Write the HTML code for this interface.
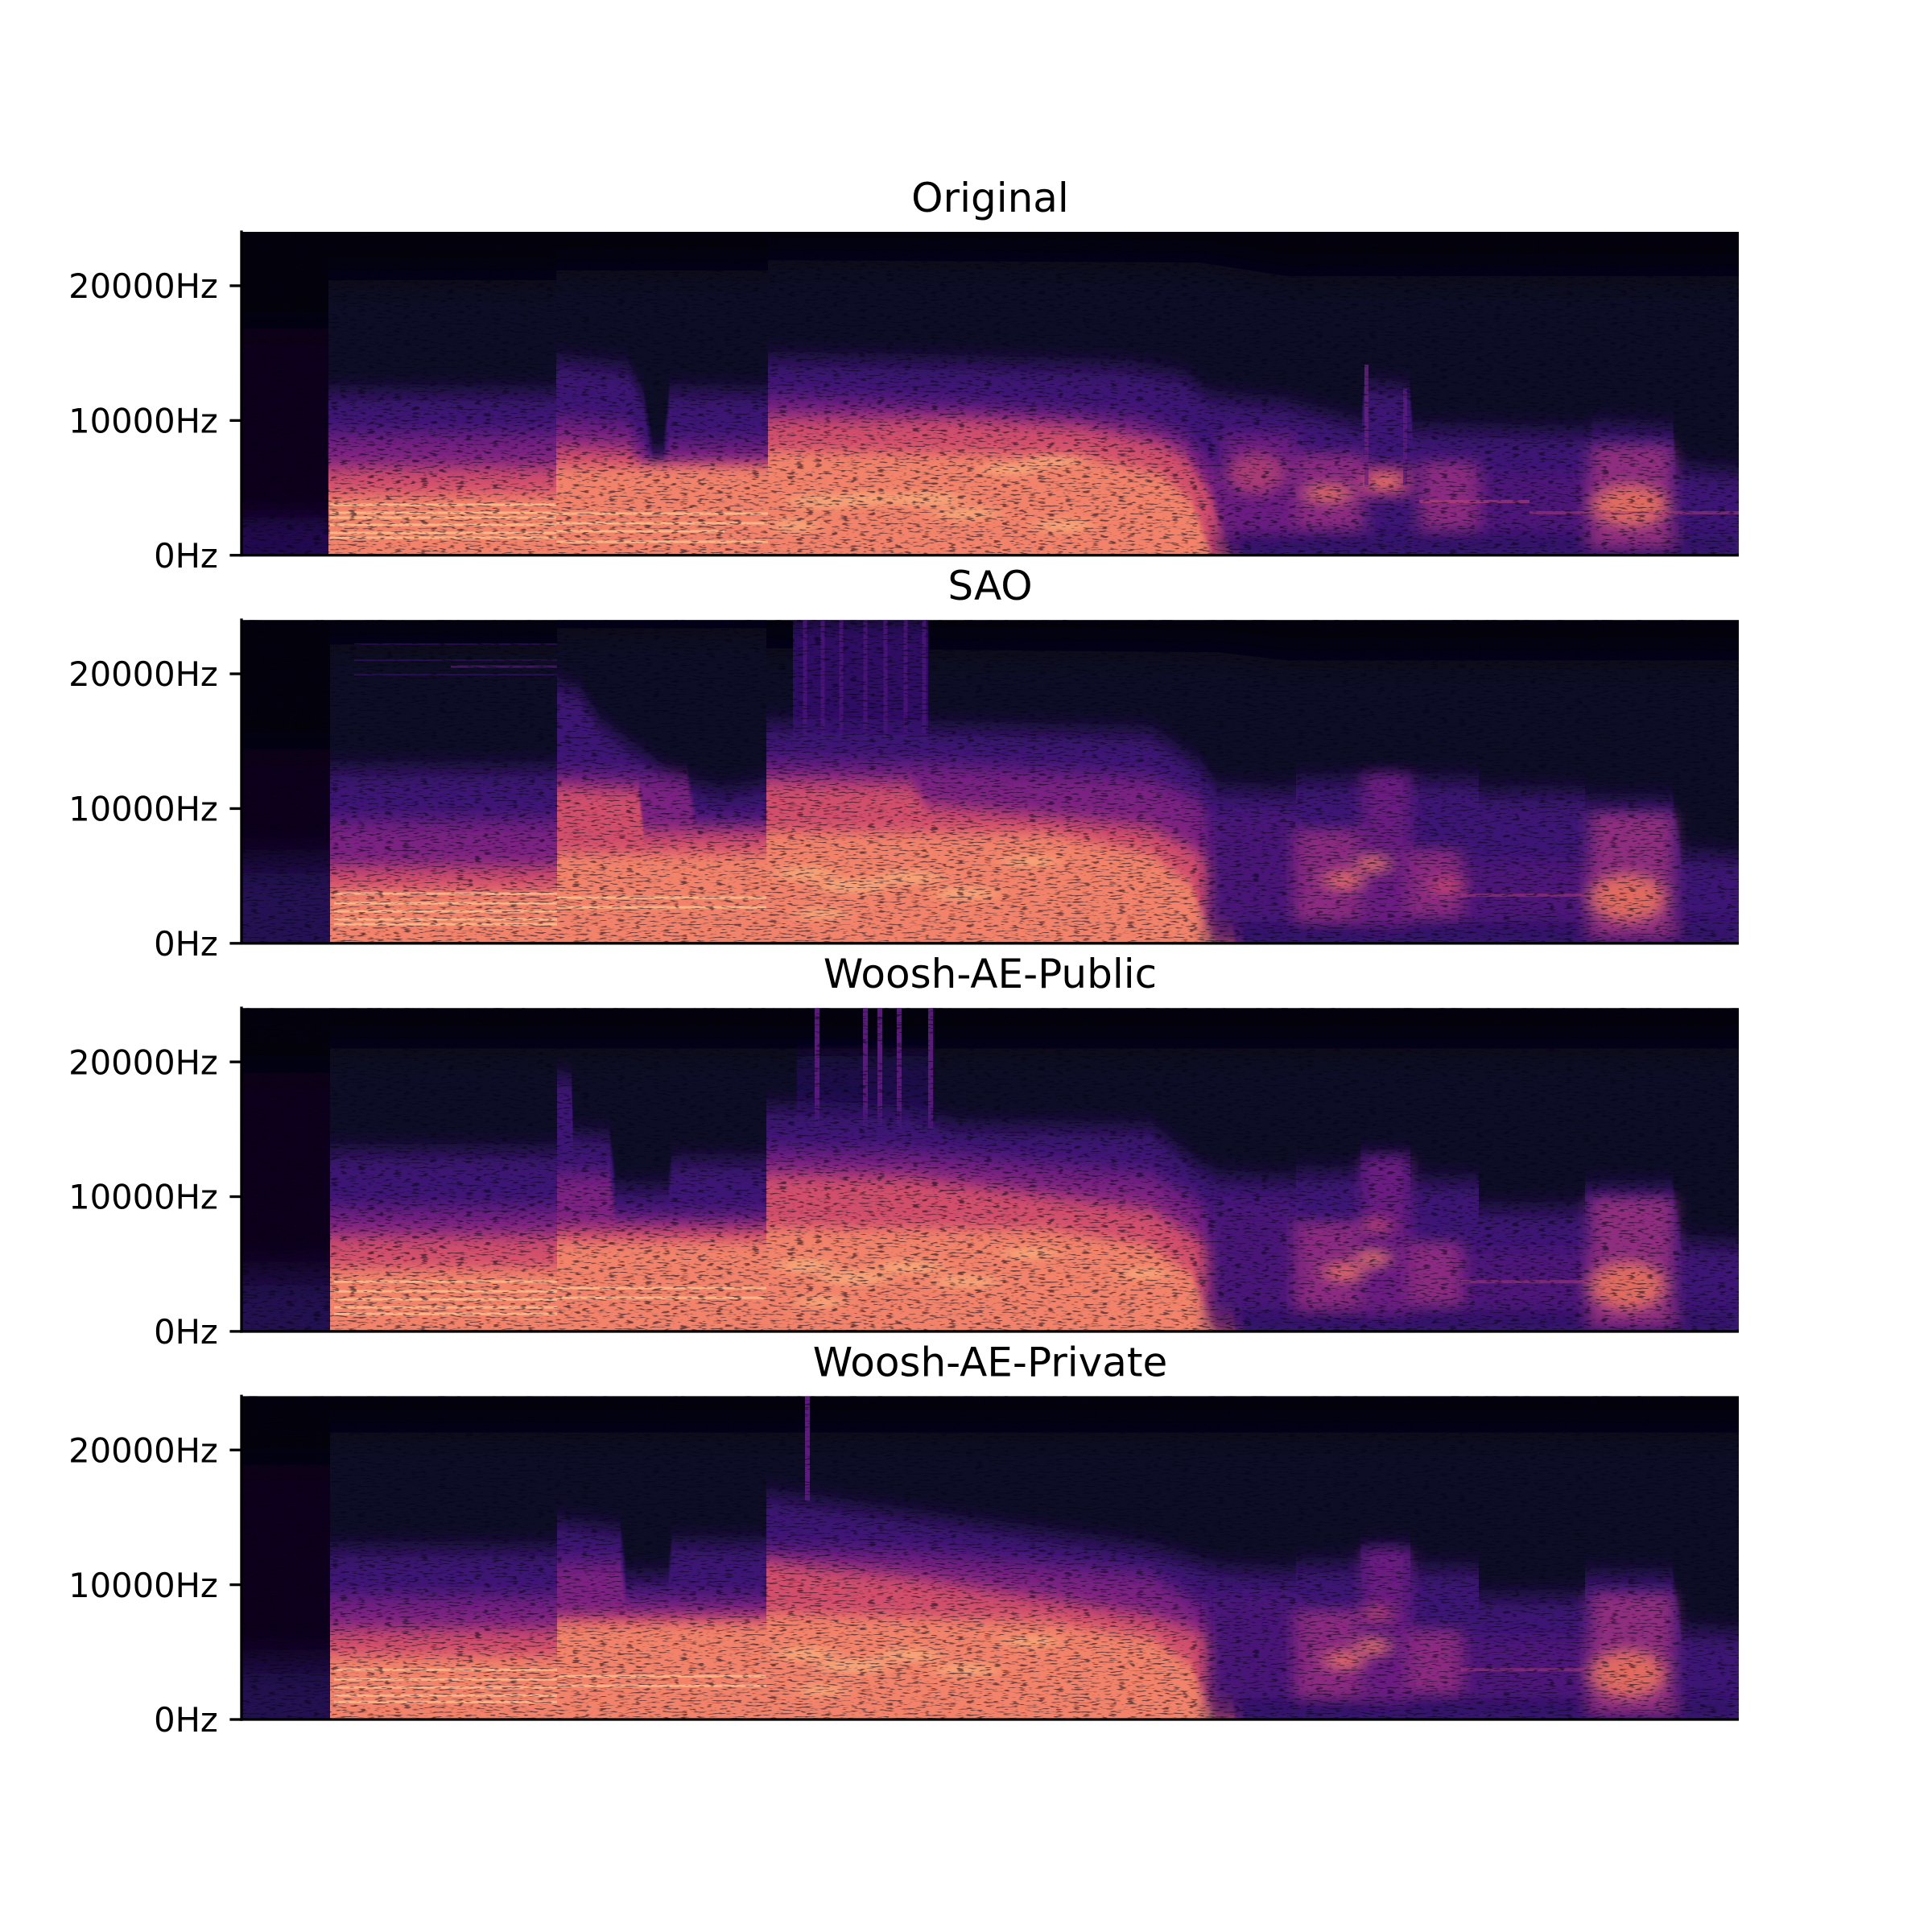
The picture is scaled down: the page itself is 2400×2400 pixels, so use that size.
<!DOCTYPE html>
<html><head><meta charset="utf-8">
<style>
html,body{margin:0;padding:0;background:#fff}
svg{display:block}
text{font-family:"DejaVu Sans","Liberation Sans",sans-serif;fill:#000}
</style></head>
<body>
<svg width="2400" height="2400" viewBox="0 0 2400 2400" xmlns="http://www.w3.org/2000/svg">
<defs>
<clipPath id="cp"><rect x="0" y="0" width="1860" height="401.74"/></clipPath>
<filter id="b22" filterUnits="userSpaceOnUse" x="-20" y="-120" width="1900" height="640"><feGaussianBlur stdDeviation="0 22"/></filter>
<filter id="b14" filterUnits="userSpaceOnUse" x="-20" y="-120" width="1900" height="640"><feGaussianBlur stdDeviation="0 14"/></filter>
<filter id="b12" filterUnits="userSpaceOnUse" x="-20" y="-120" width="1900" height="640"><feGaussianBlur stdDeviation="0 12"/></filter>
<filter id="b10" filterUnits="userSpaceOnUse" x="-20" y="-120" width="1900" height="640"><feGaussianBlur stdDeviation="0 10"/></filter>
<filter id="b8" filterUnits="userSpaceOnUse" x="-20" y="-120" width="1900" height="640"><feGaussianBlur stdDeviation="0 8"/></filter>
<filter id="bt" filterUnits="userSpaceOnUse" x="-20" y="-120" width="1900" height="640"><feGaussianBlur stdDeviation="10 8"/></filter>
<filter id="bs" filterUnits="userSpaceOnUse" x="-20" y="-120" width="1900" height="640"><feGaussianBlur stdDeviation="10 4"/></filter>
<filter id="nz1" filterUnits="userSpaceOnUse" x="0" y="0" width="1860" height="402" color-interpolation-filters="sRGB">
<feTurbulence type="fractalNoise" baseFrequency="0.09 0.5" numOctaves="2" seed="3"/>
<feColorMatrix type="matrix" values="0 0 0 0 0.02  0 0 0 0 0.01  0 0 0 0 0.08  -7 0 0 0 3.1"/>
</filter>
<filter id="nz2" filterUnits="userSpaceOnUse" x="0" y="0" width="1860" height="402" color-interpolation-filters="sRGB">
<feTurbulence type="fractalNoise" baseFrequency="0.09 0.5" numOctaves="2" seed="11"/>
<feColorMatrix type="matrix" values="0 0 0 0 0.02  0 0 0 0 0.01  0 0 0 0 0.08  -7 0 0 0 3.1"/>
</filter>
</defs>

<rect width="2400" height="2400" fill="#fff"/>

<!-- ================= PANEL 1 : Original ================= -->
<g transform="translate(300,288)">
<g clip-path="url(#cp)">
<rect width="1860" height="402" fill="#03020c"/>
<path fill="#07041a" filter="url(#b22)" d="M0,120 L108,120 L108,440 L0,440Z"/>
<path fill="#0d0726" filter="url(#b22)" d="M108,60 L391,60 L391,48 L654,48 L654,35 L1190,38 L1300,55 L1860,55 L1860,440 L108,440Z"/>
<path fill="#2a1160" opacity=".75" filter="url(#b14)" d="M0,355 L108,355 L108,440 L0,440Z"/>
<path fill="#3d1274" filter="url(#b14)" d="M108,200 L391,200 L391,160 L480,170 L499,205 L511,272 L524,272 L532,198 L654,200 L654,158 L900,162 L1100,168 L1170,180 L1203,205 L1300,215 L1391,240 L1395,190 L1451,195 L1455,245 L1675,250 L1680,240 L1778,245 L1782,292 L1860,300 L1860,440 L108,440Z"/>
<path fill="#7c2482" filter="url(#b12)" d="M108,252 L391,252 L391,232 L480,240 L499,262 L511,292 L524,292 L532,262 L654,262 L654,205 L800,210 L1000,222 L1112,232 L1172,252 L1203,285 L1230,330 L1250,440 L108,440Z"/>
<path fill="#d2506c" filter="url(#b10)" d="M108,293 L391,293 L391,266 L480,270 L499,290 L654,290 L654,232 L900,233 L1042,242 L1142,262 L1172,278 L1203,322 L1225,380 L1235,440 L108,440Z"/>
<path fill="#f2836a" filter="url(#b8)" d="M108,326 L391,326 L391,292 L654,292 L654,272 L1042,278 L1142,300 L1180,335 L1205,400 L1210,440 L108,440Z"/>
<g stroke="#fdc28c" stroke-width="3" opacity=".85">
<line x1="110" y1="339" x2="391" y2="339"/><line x1="110" y1="349" x2="391" y2="349"/>
<line x1="110" y1="355" x2="391" y2="355"/><line x1="110" y1="364" x2="391" y2="364"/>
<line x1="110" y1="374" x2="391" y2="374"/><line x1="110" y1="380" x2="391" y2="380"/>
<line x1="391" y1="350" x2="654" y2="350"/><line x1="391" y1="362" x2="654" y2="362"/>
<line x1="391" y1="372" x2="600" y2="372"/><line x1="391" y1="385" x2="654" y2="385"/>
</g>
<g fill="#fbb880" opacity=".6" filter="url(#bs)">
<ellipse cx="687" cy="365" rx="30" ry="8"/><ellipse cx="720" cy="335" rx="40" ry="9"/>
<ellipse cx="778" cy="332" rx="45" ry="8"/><ellipse cx="850" cy="332" rx="45" ry="9"/>
<ellipse cx="954" cy="295" rx="35" ry="7"/><ellipse cx="1009" cy="285" rx="35" ry="7"/>
<ellipse cx="1021" cy="365" rx="35" ry="8"/><ellipse cx="900" cy="350" rx="40" ry="8"/>
</g>
<g filter="url(#bt)">
<rect x="1210" y="375" width="650" height="27" fill="#2e0f64" opacity=".7"/>
<rect x="1215" y="250" width="95" height="125" fill="#6a1f80"/>
<ellipse cx="1260" cy="300" rx="35" ry="25" fill="#a83a76"/>
<rect x="1310" y="275" width="85" height="95" fill="#8a2a80"/>
<ellipse cx="1350" cy="325" rx="28" ry="9" fill="#e06a60"/>
<rect x="1395" y="290" width="57" height="40" fill="#a23676"/>
<ellipse cx="1420" cy="310" rx="22" ry="7" fill="#f0785f"/>
<rect x="1463" y="285" width="73" height="85" fill="#8a2a80"/>
<rect x="1536" y="300" width="139" height="72" fill="#4e1679"/>
<rect x="1675" y="265" width="103" height="127" fill="#8f2d7e"/>
<ellipse cx="1725" cy="340" rx="45" ry="24" fill="#e06a60"/>
</g>
<rect x="1395" y="165" width="5" height="150" fill="#6d2080" opacity=".8"/>
<rect x="1443" y="195" width="5" height="120" fill="#5e1b7e" opacity=".8"/>
<rect x="1463" y="333" width="137" height="4" fill="#c8456f" opacity=".5"/>
<rect x="1600" y="347" width="260" height="4" fill="#b03c74" opacity=".5"/>
<rect width="1860" height="402" filter="url(#nz1)" opacity=".55"/>
</g>
</g>

<!-- ================= PANEL 2 : SAO ================= -->
<g transform="translate(300,770.09)">
<g clip-path="url(#cp)">
<rect width="1860" height="402" fill="#03020c"/>
<path fill="#08051c" filter="url(#b22)" d="M0,160 L110,160 L110,440 L0,440Z"/>
<path fill="#0d0726" filter="url(#b22)" d="M110,30 L392,30 L392,10 L652,10 L652,35 L1213,40 L1300,50 L1860,50 L1860,440 L110,440Z"/>
<path fill="#2c1262" opacity=".8" filter="url(#b22)" d="M0,300 L110,300 L110,440 L0,440Z"/>
<rect x="685" y="0" width="168" height="170" fill="#2e0f64" filter="url(#b14)"/>
<g stroke="#4d1679" stroke-width="5" opacity=".85">
<line x1="700" y1="0" x2="700" y2="150"/><line x1="722" y1="0" x2="722" y2="150"/>
<line x1="745" y1="0" x2="745" y2="150"/><line x1="775" y1="0" x2="775" y2="150"/>
<line x1="800" y1="0" x2="800" y2="150"/><line x1="825" y1="0" x2="825" y2="150"/>
<line x1="848" y1="0" x2="848" y2="150"/>
</g>
<g stroke="#3a1170" stroke-width="2" opacity=".6">
<line x1="140" y1="30" x2="392" y2="30"/><line x1="140" y1="50" x2="392" y2="50"/>
<line x1="140" y1="68" x2="392" y2="68"/>
</g>
<line x1="260" y1="58" x2="392" y2="58" stroke="#5a1a7c" stroke-width="3" opacity=".7"/>
<path fill="#3d1274" filter="url(#b14)" d="M110,185 L392,185 L392,80 L420,90 L446,130 L540,200 L600,215 L652,205 L652,130 L1129,140 L1189,180 L1213,210 L1310,215 L1310,200 L1537,200 L1537,215 L1669,215 L1669,225 L1777,225 L1789,290 L1860,295 L1860,440 L110,440Z"/>
<path fill="#7c2482" filter="url(#b12)" d="M110,250 L392,250 L392,190 L553,195 L565,250 L652,250 L652,177 L853,180 L1129,197 L1189,223 L1213,260 L1235,320 L1250,440 L110,440Z"/>
<path fill="#d2506c" filter="url(#b10)" d="M110,307 L392,307 L392,207 L493,212 L500,263 L652,263 L652,200 L830,205 L853,230 L1129,257 L1213,300 L1230,370 L1240,440 L110,440Z"/>
<path fill="#f2836a" filter="url(#b8)" d="M110,335 L392,335 L392,290 L652,290 L652,263 L1000,265 L1129,290 L1180,330 L1210,400 L1215,440 L110,440Z"/>
<g stroke="#fdc28c" stroke-width="3" opacity=".85">
<line x1="115" y1="340" x2="392" y2="340"/><line x1="115" y1="352" x2="392" y2="352"/>
<line x1="115" y1="362" x2="392" y2="362"/><line x1="115" y1="372" x2="392" y2="372"/>
<line x1="115" y1="378" x2="392" y2="378"/>
<line x1="392" y1="345" x2="652" y2="345"/><line x1="392" y1="357" x2="652" y2="357"/>
</g>
<g fill="#fbb880" opacity=".6" filter="url(#bs)">
<ellipse cx="700" cy="315" rx="35" ry="9"/><ellipse cx="760" cy="330" rx="45" ry="9"/>
<ellipse cx="830" cy="320" rx="40" ry="8"/><ellipse cx="900" cy="340" rx="40" ry="8"/>
<ellipse cx="980" cy="300" rx="35" ry="7"/><ellipse cx="720" cy="365" rx="30" ry="7"/>
</g>
<g filter="url(#bt)">
<rect x="1200" y="375" width="660" height="27" fill="#2e0f64" opacity=".7"/>
<rect x="1200" y="240" width="110" height="135" fill="#4a1578"/>
<rect x="1310" y="260" width="80" height="115" fill="#8a2a80"/>
<ellipse cx="1370" cy="323" rx="25" ry="8" fill="#ee7060"/>
<rect x="1392" y="190" width="60" height="190" fill="#6a1f80"/>
<ellipse cx="1405" cy="303" rx="20" ry="7" fill="#f07860"/>
<rect x="1450" y="285" width="65" height="85" fill="#8a2a80"/>
<ellipse cx="1500" cy="330" rx="25" ry="8" fill="#c8456f"/>
<rect x="1515" y="300" width="160" height="75" fill="#4e1679"/>
<rect x="1675" y="240" width="105" height="155" fill="#8f2d7e"/>
<ellipse cx="1722" cy="345" rx="45" ry="28" fill="#e06a60"/>
</g>
<rect x="1515" y="340" width="160" height="4" fill="#b03c74" opacity=".5"/>
<rect width="1860" height="402" filter="url(#nz2)" opacity=".55"/>
</g>
</g>

<!-- ================= PANEL 3 : Woosh-AE-Public ================= -->
<g transform="translate(300,1252.17)">
<g clip-path="url(#cp)">
<rect width="1860" height="402" fill="#03020c"/>
<path fill="#08051c" filter="url(#b22)" d="M0,80 L110,80 L110,440 L0,440Z"/>
<path fill="#0d0726" filter="url(#b22)" d="M110,50 L1860,50 L1860,440 L110,440Z"/>
<path fill="#2c1262" opacity=".75" filter="url(#b22)" d="M0,330 L110,330 L110,440 L0,440Z"/>
<rect x="690" y="60" width="170" height="100" fill="#1e0b48" filter="url(#b14)"/>
<g stroke="#5a1a7c" stroke-width="6">
<line x1="715" y1="0" x2="715" y2="150"/><line x1="775" y1="0" x2="775" y2="150"/>
<line x1="793" y1="0" x2="793" y2="150"/><line x1="817" y1="0" x2="817" y2="150"/>
<line x1="856" y1="0" x2="856" y2="150"/>
</g>
<path fill="#3d1274" filter="url(#b14)" d="M110,178 L392,178 L392,85 L410,90 L412,157 L457,160 L465,223 L530,223 L535,190 L652,190 L652,123 L830,130 L890,147 L1129,150 L1189,197 L1213,210 L1310,215 L1310,205 L1390,205 L1390,185 L1452,185 L1452,215 L1537,215 L1537,250 L1669,250 L1669,223 L1777,223 L1789,290 L1860,295 L1860,440 L110,440Z"/>
<path fill="#7c2482" filter="url(#b12)" d="M110,250 L392,250 L392,207 L457,207 L465,257 L652,257 L652,177 L830,180 L1129,207 L1189,240 L1213,270 L1235,320 L1250,440 L110,440Z"/>
<path fill="#d2506c" filter="url(#b10)" d="M110,283 L392,283 L392,273 L652,273 L652,207 L830,210 L1129,250 L1213,300 L1230,370 L1240,440 L110,440Z"/>
<path fill="#f2836a" filter="url(#b8)" d="M110,323 L392,323 L392,290 L652,290 L652,273 L1000,275 L1129,295 L1180,330 L1210,400 L1215,440 L110,440Z"/>
<g stroke="#fdc28c" stroke-width="3" opacity=".85">
<line x1="115" y1="340" x2="392" y2="340"/><line x1="115" y1="352" x2="392" y2="352"/>
<line x1="115" y1="362" x2="392" y2="362"/><line x1="115" y1="372" x2="392" y2="372"/>
<line x1="115" y1="380" x2="392" y2="380"/>
<line x1="392" y1="348" x2="652" y2="348"/><line x1="392" y1="360" x2="652" y2="360"/>
</g>
<g fill="#fbb880" opacity=".6" filter="url(#bs)">
<ellipse cx="700" cy="320" rx="35" ry="9"/><ellipse cx="760" cy="335" rx="45" ry="9"/>
<ellipse cx="830" cy="322" rx="40" ry="8"/><ellipse cx="900" cy="340" rx="40" ry="8"/>
<ellipse cx="980" cy="305" rx="35" ry="7"/><ellipse cx="720" cy="365" rx="30" ry="7"/>
<ellipse cx="1120" cy="330" rx="30" ry="7"/>
</g>
<g filter="url(#bt)">
<rect x="1200" y="375" width="660" height="27" fill="#2e0f64" opacity=".7"/>
<rect x="1200" y="240" width="110" height="135" fill="#4a1578"/>
<rect x="1310" y="265" width="80" height="110" fill="#8a2a80"/>
<ellipse cx="1370" cy="328" rx="25" ry="8" fill="#ee7060"/>
<rect x="1392" y="185" width="60" height="195" fill="#6a1f80"/>
<ellipse cx="1405" cy="311" rx="20" ry="7" fill="#f07860"/>
<ellipse cx="1410" cy="270" rx="18" ry="7" fill="#c04570"/>
<rect x="1450" y="290" width="65" height="80" fill="#8a2a80"/>
<rect x="1515" y="300" width="160" height="75" fill="#4e1679"/>
<rect x="1675" y="235" width="105" height="160" fill="#8f2d7e"/>
<ellipse cx="1722" cy="345" rx="45" ry="28" fill="#e06a60"/>
</g>
<rect x="1515" y="338" width="160" height="4" fill="#b03c74" opacity=".5"/>
<rect width="1860" height="402" filter="url(#nz1)" opacity=".55"/>
</g>
</g>

<!-- ================= PANEL 4 : Woosh-AE-Private ================= -->
<g transform="translate(300,1734.26)">
<g clip-path="url(#cp)">
<rect width="1860" height="402" fill="#03020c"/>
<path fill="#08051c" filter="url(#b22)" d="M0,85 L110,85 L110,440 L0,440Z"/>
<path fill="#0d0726" filter="url(#b22)" d="M110,45 L1860,45 L1860,440 L110,440Z"/>
<path fill="#2c1262" opacity=".75" filter="url(#b22)" d="M0,330 L110,330 L110,440 L0,440Z"/>
<line x1="703" y1="0" x2="703" y2="130" stroke="#5e1a7e" stroke-width="6"/>
<path fill="#3d1274" filter="url(#b14)" d="M110,190 L392,190 L392,157 L410,160 L470,167 L478,223 L530,223 L535,183 L652,183 L652,123 L890,157 L1129,190 L1189,207 L1213,215 L1310,220 L1310,210 L1390,210 L1390,190 L1452,190 L1452,215 L1537,215 L1537,250 L1669,250 L1669,223 L1777,223 L1789,290 L1860,295 L1860,440 L110,440Z"/>
<path fill="#7c2482" filter="url(#b12)" d="M110,250 L392,250 L392,207 L470,207 L478,250 L652,250 L652,190 L830,195 L1129,223 L1213,270 L1235,320 L1250,440 L110,440Z"/>
<path fill="#d2506c" filter="url(#b10)" d="M110,290 L392,290 L392,273 L652,273 L652,205 L830,225 L1129,273 L1213,300 L1230,370 L1240,440 L110,440Z"/>
<path fill="#f2836a" filter="url(#b8)" d="M110,323 L392,323 L392,283 L652,283 L652,270 L1000,280 L1129,300 L1180,335 L1210,400 L1215,440 L110,440Z"/>
<g stroke="#fdc28c" stroke-width="3" opacity=".85">
<line x1="115" y1="340" x2="392" y2="340"/><line x1="115" y1="352" x2="392" y2="352"/>
<line x1="115" y1="362" x2="392" y2="362"/><line x1="115" y1="372" x2="392" y2="372"/>
<line x1="115" y1="380" x2="392" y2="380"/>
<line x1="392" y1="348" x2="652" y2="348"/><line x1="392" y1="360" x2="652" y2="360"/>
</g>
<g fill="#fbb880" opacity=".6" filter="url(#bs)">
<ellipse cx="700" cy="320" rx="35" ry="9"/><ellipse cx="760" cy="335" rx="45" ry="9"/>
<ellipse cx="830" cy="322" rx="40" ry="8"/><ellipse cx="900" cy="340" rx="40" ry="8"/>
<ellipse cx="980" cy="305" rx="35" ry="7"/><ellipse cx="720" cy="365" rx="30" ry="7"/>
</g>
<g filter="url(#bt)">
<rect x="1200" y="375" width="660" height="27" fill="#2e0f64" opacity=".7"/>
<rect x="1200" y="245" width="110" height="130" fill="#4a1578"/>
<rect x="1310" y="265" width="80" height="110" fill="#8a2a80"/>
<ellipse cx="1370" cy="328" rx="25" ry="8" fill="#ee7060"/>
<rect x="1392" y="190" width="60" height="190" fill="#6a1f80"/>
<ellipse cx="1405" cy="311" rx="20" ry="7" fill="#f07860"/>
<ellipse cx="1410" cy="270" rx="18" ry="7" fill="#c04570"/>
<rect x="1450" y="290" width="65" height="80" fill="#8a2a80"/>
<rect x="1515" y="300" width="160" height="75" fill="#4e1679"/>
<rect x="1675" y="245" width="105" height="150" fill="#8f2d7e"/>
<ellipse cx="1722" cy="345" rx="45" ry="28" fill="#e06a60"/>
</g>
<rect x="1515" y="338" width="160" height="4" fill="#b03c74" opacity=".5"/>
<rect width="1860" height="402" filter="url(#nz2)" opacity=".55"/>
</g>
</g>

<!-- ================= AXES: spines, ticks, labels, titles ================= -->
<g stroke="#000" stroke-width="3.33" fill="none">
<line x1="300" y1="286.4" x2="300" y2="691.4"/><line x1="298.3" y1="689.74" x2="2160" y2="689.74"/>
<line x1="300" y1="768.4" x2="300" y2="1173.5"/><line x1="298.3" y1="1171.83" x2="2160" y2="1171.83"/>
<line x1="300" y1="1250.5" x2="300" y2="1655.6"/><line x1="298.3" y1="1653.91" x2="2160" y2="1653.91"/>
<line x1="300" y1="1732.6" x2="300" y2="2137.7"/><line x1="298.3" y1="2136" x2="2160" y2="2136"/>
<line x1="285.4" y1="689.74" x2="300" y2="689.74"/><line x1="285.4" y1="522.35" x2="300" y2="522.35"/><line x1="285.4" y1="354.96" x2="300" y2="354.96"/>
<line x1="285.4" y1="1171.83" x2="300" y2="1171.83"/><line x1="285.4" y1="1004.44" x2="300" y2="1004.44"/><line x1="285.4" y1="837.05" x2="300" y2="837.05"/>
<line x1="285.4" y1="1653.91" x2="300" y2="1653.91"/><line x1="285.4" y1="1486.52" x2="300" y2="1486.52"/><line x1="285.4" y1="1319.13" x2="300" y2="1319.13"/>
<line x1="285.4" y1="2136" x2="300" y2="2136"/><line x1="285.4" y1="1968.61" x2="300" y2="1968.61"/><line x1="285.4" y1="1801.22" x2="300" y2="1801.22"/>
</g>
<g font-size="41.67" text-anchor="end">
<text x="270.8" y="704.9">0Hz</text><text x="270.8" y="537.5">10000Hz</text><text x="270.8" y="370.1">20000Hz</text>
<text x="270.8" y="1187">0Hz</text><text x="270.8" y="1019.6">10000Hz</text><text x="270.8" y="852.2">20000Hz</text>
<text x="270.8" y="1669.1">0Hz</text><text x="270.8" y="1501.7">10000Hz</text><text x="270.8" y="1334.3">20000Hz</text>
<text x="270.8" y="2151.2">0Hz</text><text x="270.8" y="1983.8">10000Hz</text><text x="270.8" y="1816.4">20000Hz</text>
</g>
<g font-size="50" text-anchor="middle">
<text x="1230" y="263">Original</text>
<text x="1230" y="745.1">SAO</text>
<text x="1230" y="1227.2">Woosh-AE-Public</text>
<text x="1230" y="1709.3">Woosh-AE-Private</text>
</g>
</svg>
</body></html>
